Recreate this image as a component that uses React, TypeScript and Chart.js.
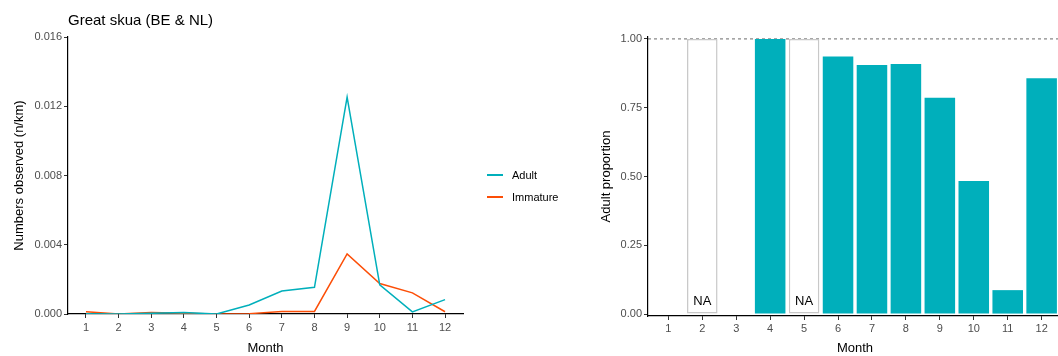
import React, { useEffect, useRef } from 'react';
import { Chart, registerables } from 'chart.js';

Chart.register(...registerables);

const FONT = '"Liberation Sans", Arial, Helvetica, sans-serif';

// ---- Data ----
const months = [1, 2, 3, 4, 5, 6, 7, 8, 9, 10, 11, 12];
const adultDensity = [0.00002, 0, 0.00004, 0.00008, 0, 0.00052, 0.00133, 0.00154, 0.01253, 0.00168, 0.00012, 0.00083];
const immatureDensity = [0.00013, 0, 0.00008, 0.00004, 0, 0.00002, 0.00015, 0.00015, 0.00347, 0.00176, 0.00122, 0.00013];
const densityTicks = [0, 0.004, 0.008, 0.012, 0.016];

const adultProportion: (number | null)[] = [null, null, null, 1, null, 0.936, 0.905, 0.909, 0.786, 0.484, 0.087, 0.857];
const naPlaceholder: (number | null)[] = [null, 1, null, null, 1, null, null, null, null, null, null, null];
const proportionTicks = [0, 0.25, 0.5, 0.75, 1];
const REFERENCE_PROPORTION = 1;

const TEAL = '#00AFBB';
const ORANGE = '#FC4E07';

const refLinePlugin = {
  id: 'refLine',
  beforeDatasetsDraw(chart: any) {
    const { ctx, chartArea, scales } = chart;
    const py = scales.y.getPixelForValue(REFERENCE_PROPORTION);
    ctx.save();
    ctx.setLineDash([3, 3]);
    ctx.strokeStyle = '#444444';
    ctx.lineWidth = 0.8;
    ctx.beginPath();
    ctx.moveTo(chartArea.left, py);
    ctx.lineTo(chartArea.right, py);
    ctx.stroke();
    ctx.restore();
  },
};

const naLabelPlugin = {
  id: 'naLabels',
  afterDatasetsDraw(chart: any) {
    const { ctx, scales } = chart;
    const meta = chart.getDatasetMeta(0);
    const y0 = scales.y.getPixelForValue(0);
    ctx.save();
    ctx.fillStyle = '#000000';
    ctx.font = `13px ${FONT}`;
    ctx.textAlign = 'center';
    ctx.textBaseline = 'alphabetic';
    meta.data.forEach((el: any, i: number) => {
      if (naPlaceholder[i] != null) ctx.fillText('NA', el.x, y0 - 9);
    });
    ctx.restore();
  },
};

const tickFont = { size: 11, family: FONT };
const titleFont = { size: 13, family: FONT };

const axisGrid = { drawOnChartArea: false, drawTicks: true, tickLength: 4, tickColor: '#333', tickWidth: 1 };
const axisBorder = { color: '#000', width: 1.2 };

export default function App() {
  const leftRef = useRef<HTMLCanvasElement>(null);
  const rightRef = useRef<HTMLCanvasElement>(null);

  useEffect(() => {
    Chart.defaults.font.family = FONT;
    const left = new Chart(leftRef.current!, {
      type: 'line',
      data: {
        datasets: [
          {
            label: 'Adult',
            data: months.map((m, i) => ({ x: m, y: adultDensity[i] })),
            borderColor: TEAL,
            borderWidth: 1.5,
            pointRadius: 0,
            tension: 0,
          },
          {
            label: 'Immature',
            data: months.map((m, i) => ({ x: m, y: immatureDensity[i] })),
            borderColor: ORANGE,
            borderWidth: 1.5,
            pointRadius: 0,
            tension: 0,
          },
        ],
      },
      options: {
        animation: false,
        responsive: false,
        maintainAspectRatio: false,
        layout: { padding: { left: 0, right: 117, top: 0, bottom: 0 } },
        plugins: {
          legend: { display: false },
          tooltip: { enabled: false },
          title: {
            display: true,
            text: 'Great skua (BE & NL)',
            align: 'start',
            fullSize: false,
            color: '#000',
            font: { size: 15, family: FONT, weight: 'normal' },
            padding: { top: 12, bottom: 7 },
          },
        },
        scales: {
          x: {
            type: 'linear',
            min: 0.45,
            max: 12.55,
            afterBuildTicks: (s: any) => {
              s.ticks = months.map((v) => ({ value: v }));
            },
            afterFit: (s: any) => {
              s.height = 42;
            },
            grid: axisGrid,
            border: axisBorder,
            ticks: { color: '#4d4d4d', font: tickFont, padding: 3, maxRotation: 0, autoSkip: false, callback: (v: any) => String(v) },
            title: { display: true, text: 'Month', color: '#000', font: titleFont, padding: { top: 0, bottom: 0 } },
          },
          y: {
            type: 'linear',
            min: 0,
            max: 0.016,
            afterBuildTicks: (s: any) => {
              s.ticks = densityTicks.map((v) => ({ value: v }));
            },
            afterFit: (s: any) => {
              s.width = 68;
            },
            grid: axisGrid,
            border: axisBorder,
            ticks: { color: '#4d4d4d', font: tickFont, padding: 2, callback: (v: any) => Number(v).toFixed(3) },
            title: { display: true, text: 'Numbers observed (n/km)', color: '#000', font: titleFont, padding: { top: 12, bottom: 0 } },
          },
        },
      } as any,
    });

    const right = new Chart(rightRef.current!, {
      type: 'bar',
      data: {
        datasets: [
          {
            label: 'NA',
            data: months.map((m, i) => ({ x: m, y: naPlaceholder[i] })),
            backgroundColor: '#ffffff',
            borderColor: '#c8c8c8',
            borderWidth: 1.5,
            borderSkipped: false,
            grouped: false,
            barPercentage: 0.9,
            categoryPercentage: 1,
          },
          {
            label: 'Adult proportion',
            data: months.map((m, i) => ({ x: m, y: adultProportion[i] })),
            backgroundColor: TEAL,
            borderWidth: 0,
            grouped: false,
            barPercentage: 0.9,
            categoryPercentage: 1,
          },
        ],
      } as any,
      options: {
        animation: false,
        responsive: false,
        maintainAspectRatio: false,
        layout: { padding: { left: 0, right: 0, top: 37, bottom: 0 } },
        plugins: { legend: { display: false }, tooltip: { enabled: false } },
        scales: {
          x: {
            type: 'linear',
            min: 0.4,
            max: 12.6,
            offset: false,
            afterBuildTicks: (s: any) => {
              s.ticks = months.map((v) => ({ value: v }));
            },
            afterFit: (s: any) => {
              s.height = 40;
            },
            grid: { ...axisGrid, offset: false },
            border: axisBorder,
            ticks: { color: '#4d4d4d', font: tickFont, padding: 2, maxRotation: 0, autoSkip: false, callback: (v: any) => String(v) },
            title: { display: true, text: 'Month', color: '#000', font: titleFont, padding: { top: 0, bottom: 0 } },
          },
          y: {
            type: 'linear',
            min: -0.007,
            max: 1.007,
            afterBuildTicks: (s: any) => {
              s.ticks = proportionTicks.map((v) => ({ value: v }));
            },
            afterFit: (s: any) => {
              s.width = 68;
            },
            grid: axisGrid,
            border: axisBorder,
            ticks: { color: '#4d4d4d', font: tickFont, padding: 2, callback: (v: any) => Number(v).toFixed(2) },
            title: { display: true, text: 'Adult proportion', color: '#000', font: titleFont, padding: { top: 19, bottom: 0 } },
          },
        },
      } as any,
      plugins: [refLinePlugin, naLabelPlugin],
    });

    return () => {
      left.destroy();
      right.destroy();
    };
  }, []);

  const legendItems = [
    { label: 'Adult', color: TEAL, top: 175 },
    { label: 'Immature', color: ORANGE, top: 197 },
  ];

  return (
    <div style={{ position: 'fixed', left: 0, top: 0, width: 1058, height: 356, overflow: 'hidden', background: '#fff', fontFamily: FONT }}>
      <canvas ref={leftRef} width={580} height={356} style={{ position: 'absolute', left: 0, top: 0, width: 580, height: 356 }} />
      <canvas ref={rightRef} width={482} height={356} style={{ position: 'absolute', left: 580, top: 0, width: 482, height: 356 }} />
      {legendItems.map((it) => (
        <React.Fragment key={it.label}>
          <div style={{ position: 'absolute', left: 487, top: it.top - 0.75, width: 16, height: 1.5, background: it.color }} />
          <div style={{ position: 'absolute', left: 512, top: it.top - 7, fontSize: 11, lineHeight: '14px', color: '#000' }}>{it.label}</div>
        </React.Fragment>
      ))}
    </div>
  );
}
